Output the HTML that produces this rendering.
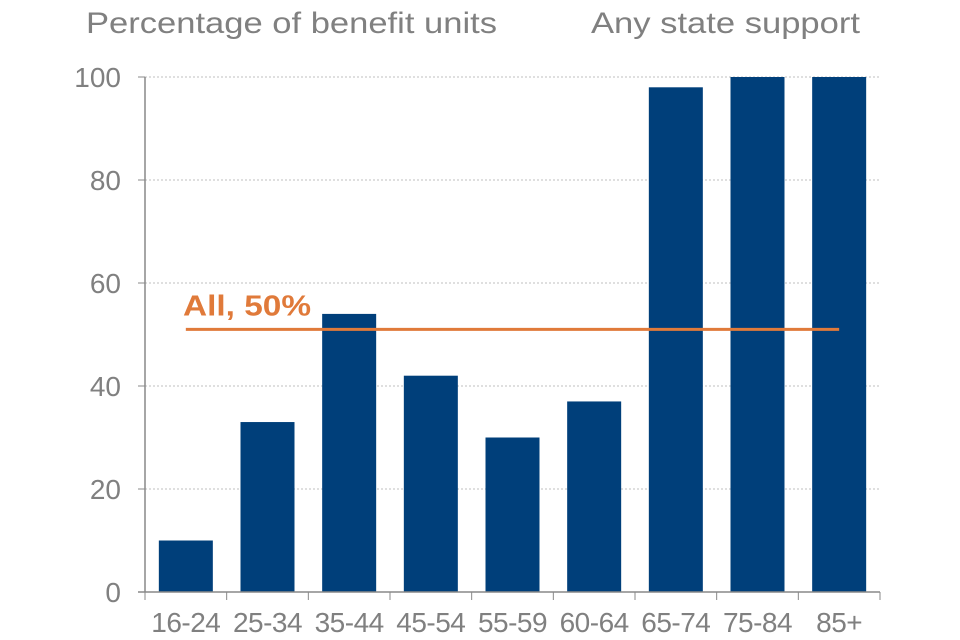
<!DOCTYPE html>
<html><head><meta charset="utf-8"><style>
body{margin:0;background:#fff;}
svg{display:block;font-family:"Liberation Sans",Arial,sans-serif;}
</style></head><body>
<svg id="chart" width="960" height="640">
<text x="86" y="33" font-size="30" fill="#808080" textLength="411" lengthAdjust="spacingAndGlyphs">Percentage of benefit units</text>
<text x="591" y="33" font-size="30" fill="#808080" textLength="269" lengthAdjust="spacingAndGlyphs">Any state support</text>
<g id="grid"></g><g id="bars"></g><g id="axes"></g>
</svg>
<script>
const categories=["16-24","25-34","35-44","45-54","55-59","60-64","65-74","75-84","85+"];
const values=[10,33,54,42,30,37,98,100,100];
const yTicks=[0,20,40,60,80,100];
const allValue=51;
const allLabel="All, 50%";
const ns="http://www.w3.org/2000/svg";
const L=145,R=880,T=77,B=592;
const bw=(R-L)/categories.length;
const y=v=>B-(v/100)*(B-T);
const xc=i=>L+bw*(i+0.5);
function mk(tag,attrs,parent,text){const e=document.createElementNS(ns,tag);for(const k in attrs)e.setAttribute(k,attrs[k]);if(text!==undefined)e.textContent=text;document.getElementById(parent).appendChild(e);return e;}
yTicks.forEach(t=>{
 if(t>0){const g=mk('line',{x1:L,x2:R,y1:y(t),y2:y(t),stroke:'#bfbfbf','stroke-width':1,'stroke-dasharray':'2,2'},'grid');
 
 }
 const tk=mk('line',{x1:L-7,x2:L,y1:y(t),y2:y(t),stroke:'#888','stroke-width':1},'axes');
 
 
 const lb=mk('text',{x:121,y:y(t)+10,'text-anchor':'end','font-size':28,fill:'#808080'},'axes',String(t));
 
 
});
categories.forEach((c,i)=>{
 const b=mk('rect',{x:xc(i)-27,y:y(values[i]),width:54,height:B-y(values[i]),fill:'#003f7a'},'bars');
 
 
 const lb=mk('text',{x:xc(i),y:632,'text-anchor':'middle','font-size':28,fill:'#808080','letter-spacing':'-0.5'},'axes',c);
 
 
});
for(let i=0;i<=categories.length;i++){
 const tk=mk('line',{x1:L+bw*i,x2:L+bw*i,y1:B,y2:B+8,stroke:'#888','stroke-width':1},'axes');
 
 
}
const ax=mk('line',{x1:L,x2:L,y1:T,y2:B,stroke:'#888','stroke-width':1.5},'axes');


const bx=mk('line',{x1:L-7,x2:R,y1:B,y2:B,stroke:'#888','stroke-width':1.5},'axes');


const al=mk('line',{x1:xc(0),x2:xc(categories.length-1),y1:y(allValue),y2:y(allValue),stroke:'#e07a3a','stroke-width':3},'axes');


const at=mk('text',{x:183,y:y(allValue)-14,'font-size':29,'font-weight':'bold',fill:'#e07a3a',textLength:128,lengthAdjust:'spacingAndGlyphs'},'axes',allLabel);


</script>
</body></html>
